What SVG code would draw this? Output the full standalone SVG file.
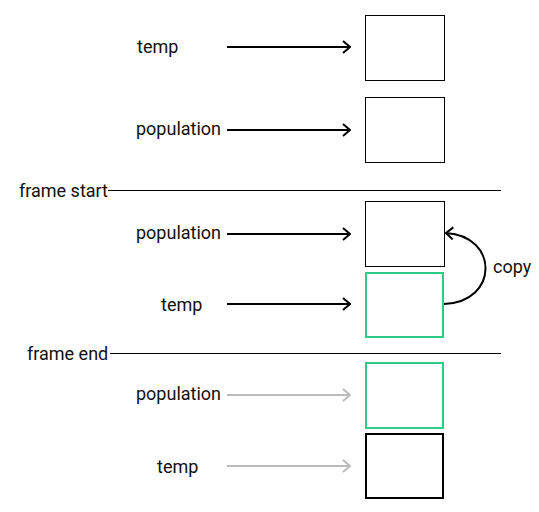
<svg xmlns="http://www.w3.org/2000/svg" width="539" height="512" viewBox="0 0 539 512">
<defs>
<style>
text{font-family:Roboto,"Liberation Sans",sans-serif;font-size:18px;fill:#111}
.box{fill:#fff;stroke:#000;stroke-width:1}
.green{fill:#fff;stroke:#2ecc87;stroke-width:2}
.thick{fill:#fff;stroke:#000;stroke-width:2}
.arr{stroke:#000;stroke-width:2;fill:none;marker-end:url(#ah)}
.garr{stroke:#bbb;stroke-width:2;fill:none;marker-end:url(#gah)}
.rule{stroke:#000;stroke-width:1}
</style>
<marker id="ah" viewBox="0 0 10 14" refX="9" refY="7" markerWidth="10" markerHeight="14" markerUnits="userSpaceOnUse" orient="auto"><path d="M2,1 L9,7 L2,13" fill="none" stroke="#000" stroke-width="2"/></marker>
<marker id="gah" viewBox="0 0 10 14" refX="9" refY="7" markerWidth="10" markerHeight="14" markerUnits="userSpaceOnUse" orient="auto"><path d="M2,1 L9,7 L2,13" fill="none" stroke="#bbb" stroke-width="2"/></marker>
</defs>
<g id="rules">
<text x="19" y="197">frame start</text>
<line class="rule" x1="108" y1="190.5" x2="501" y2="190.5"/>
<text x="27" y="360">frame end</text>
<line class="rule" x1="110" y1="353.5" x2="501" y2="353.5"/>
</g>
<g id="n1"><rect class="box" x="365.5" y="15.5" width="79" height="65"/><text x="137" y="53">temp</text></g>
<g id="n2"><rect class="box" x="365.5" y="97.5" width="79" height="65"/><text x="136" y="135">population</text></g>
<g id="n3"><rect class="box" x="365.5" y="201.5" width="79" height="65"/><text x="136" y="239">population</text></g>
<g id="n4"><rect class="green" x="366" y="273" width="77" height="64"/><text x="161" y="311">temp</text></g>
<g id="n5"><rect class="green" x="366" y="363" width="77" height="65"/><text x="136" y="400">population</text></g>
<g id="n6"><rect class="thick" x="366" y="434" width="77" height="64"/><text x="157" y="473">temp</text></g>
<g id="connectors">
<line class="arr" x1="227" y1="47" x2="350" y2="47"/>
<line class="arr" x1="227" y1="130" x2="350" y2="130"/>
<line class="arr" x1="227" y1="234" x2="350" y2="234"/>
<line class="arr" x1="227" y1="304" x2="350" y2="304"/>
<line class="garr" x1="227" y1="395" x2="350" y2="395"/>
<line class="garr" x1="227" y1="466" x2="350" y2="466"/>
<path class="arr" d="M444,304 C499,302 499,236 446,233"/>
<text x="493" y="273">copy</text>
</g>
</svg>
